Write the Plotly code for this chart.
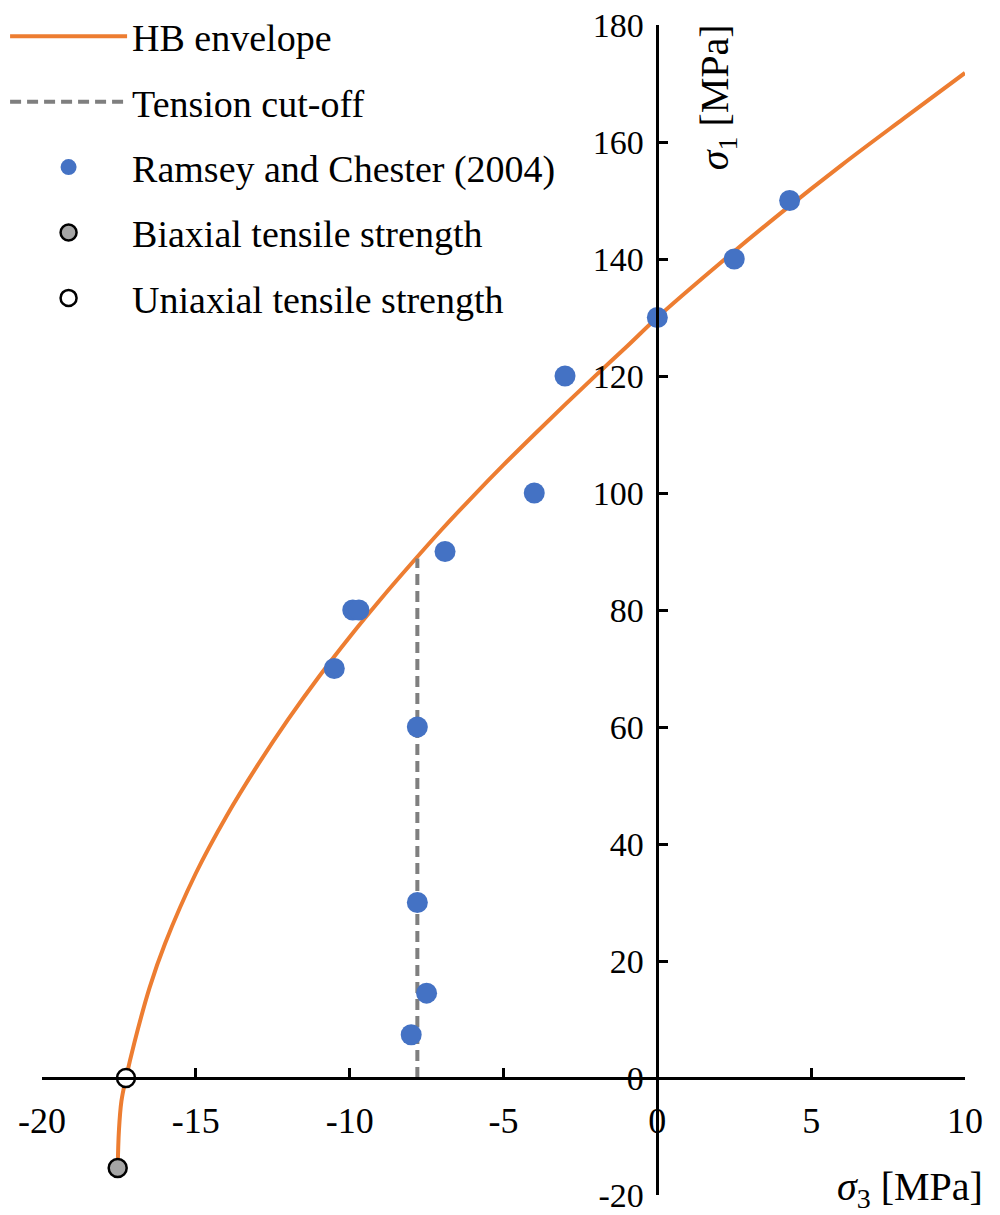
import plotly.graph_objects as go

# HB envelope (sigma3, sigma1)
hb_s3 = [-17.54, -17.50, -17.42, -17.27, -17.0, -16.5, -16.0, -15.0, -14.0, -13.0, -12.0,
         -11.0, -10.0, -9.0, -8.0, -7.0, -6.0, -5.0, -4.0, -3.0, -2.0, -1.0, 0.0,
         2.0, 4.0, 6.0, 8.0, 10.0]
hb_s1 = [-15.4, -9.0, -4.0, 0.0, 6.0, 15.5, 23.0, 35.0, 44.8, 53.4, 61.3,
         68.6, 75.4, 81.8, 87.9, 93.8, 99.4, 104.8, 110.0, 115.1, 120.1, 125.0, 130.0,
         139.1, 147.8, 156.1, 164.0, 171.8]

# Tension cut-off
tc_s3 = [-7.8, -7.8]
tc_s1 = [0.0, 88.8]

# Ramsey and Chester (2004)
rc_s3 = [4.3, 2.5, 0.0, -3.0, -4.0, -6.9, -9.9, -9.7, -10.5, -7.8, -7.8, -7.5, -8.0]
rc_s1 = [150, 140, 130, 120, 100, 90, 80, 80, 70, 60, 30, 14.5, 7.4]

# Biaxial / uniaxial tensile strength
bi_s3 = [-17.54]
bi_s1 = [-15.4]
uni_s3 = [-17.27]
uni_s1 = [0.0]

x_ticks = [-20, -15, -10, -5, 0, 5, 10]
y_ticks = [-20, 0, 20, 40, 60, 80, 100, 120, 140, 160, 180]

FONT = "Liberation Serif"

fig = go.Figure()
fig.add_trace(go.Scatter(x=hb_s3, y=hb_s1, mode="lines", name="HB envelope",
                         line=dict(color="#ED7D31", width=4, shape="spline"),
                         legendgroup="a"))
fig.add_trace(go.Scatter(x=tc_s3, y=tc_s1, mode="lines", name="Tension cut-off",
                         line=dict(color="#7F7F7F", width=4, dash="11px,6px"),
                         legendgroup="b"))
fig.add_trace(go.Scatter(x=rc_s3, y=rc_s1, mode="markers", name="Ramsey and Chester (2004)",
                         marker=dict(color="#4472C4", size=21),
                         legendgroup="c"))
fig.add_trace(go.Scatter(x=bi_s3, y=bi_s1, mode="markers", name="Biaxial tensile strength",
                         marker=dict(color="#A5A5A5", size=18, line=dict(color="black", width=2.5)),
                         legendgroup="d"))
fig.add_trace(go.Scatter(x=uni_s3, y=uni_s1, mode="markers", name="Uniaxial tensile strength",
                         marker=dict(color="white", size=18, line=dict(color="black", width=2.5)),
                         legendgroup="e"))

fig.update_layout(
    width=992, height=1207,
    margin=dict(l=34, r=35, t=17, b=20, autoexpand=False),
    paper_bgcolor="white", plot_bgcolor="white",
    font=dict(family=FONT, size=35, color="black"),
    showlegend=True,
    legend=dict(x=-0.04, y=1.017, xanchor="left", yanchor="top",
                font=dict(family=FONT, size=38, color="black"),
                bgcolor="rgba(0,0,0,0)", traceorder="grouped", tracegroupgap=13,
                itemwidth=117),
    xaxis=dict(range=[-20, 10], anchor="free", position=0.1, automargin=False,
               showline=True, linecolor="black", linewidth=2.5,
               ticks="inside", ticklen=9, tickwidth=2.5, tickcolor="black",
               tickvals=x_ticks, ticktext=[str(v) for v in x_ticks],
               showgrid=False, zeroline=False, ticklabelstandoff=10,
               ticklabeloverflow="allow",
               tickfont=dict(family=FONT, size=36)),
    yaxis=dict(range=[-20, 180], anchor="free", position=20 / 30, automargin=False,
               showline=True, linecolor="black", linewidth=2.5,
               ticks="inside", ticklen=9, tickwidth=2.5, tickcolor="black",
               tickvals=y_ticks, ticktext=[str(v) for v in y_ticks],
               showgrid=False, zeroline=False, ticklabelstandoff=6,
               ticklabeloverflow="allow",
               tickfont=dict(family=FONT, size=34)),
    annotations=[
        dict(text="<i>σ</i><sub>1</sub> [MPa]", xref="x", yref="y", x=1.95, y=167.7,
             textangle=-90, showarrow=False, xanchor="center", yanchor="middle",
             font=dict(family=FONT, size=40)),
        dict(text="<i>σ</i><sub>3</sub> [MPa]", xref="paper", yref="paper", x=1.022, y=0.005,
             showarrow=False, xanchor="right", yanchor="middle",
             font=dict(family=FONT, size=40)),
    ],
)

fig.write_html("out.html")
